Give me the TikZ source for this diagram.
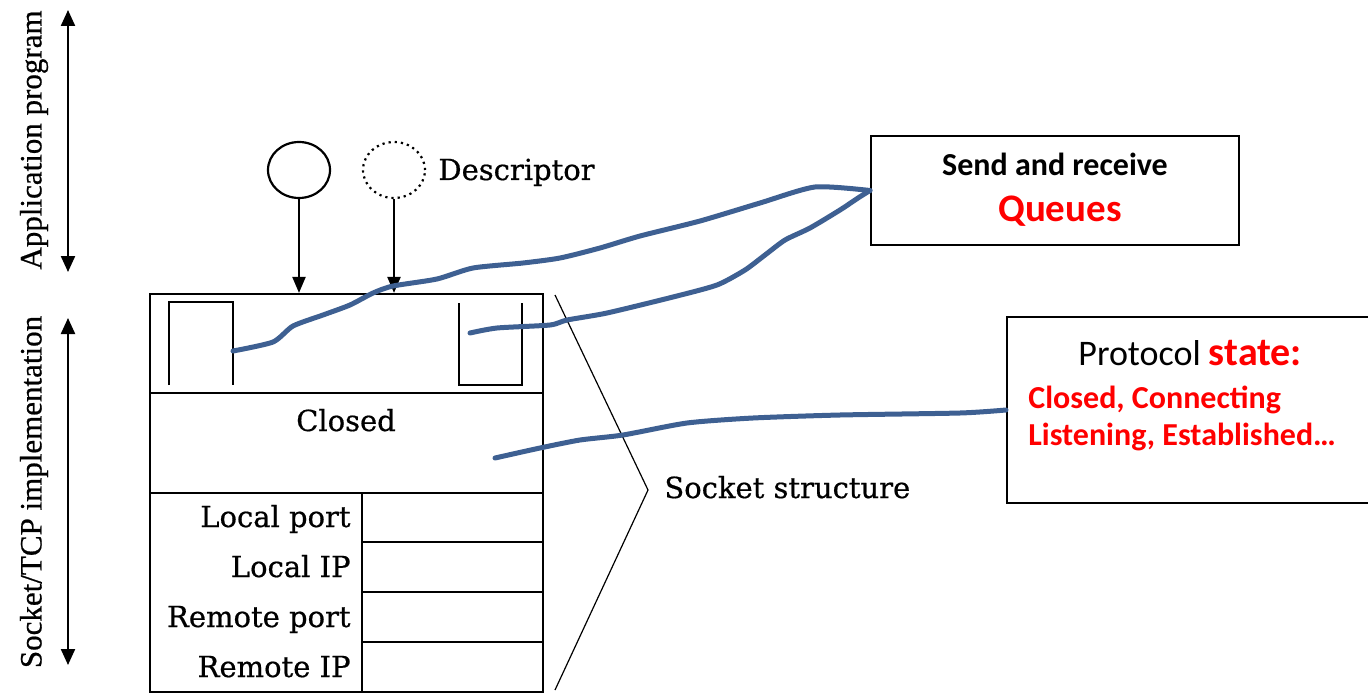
\documentclass[tikz,border=0pt]{standalone}
\usepackage{fontspec}
\setmainfont[FakeBold=0.6]{DejaVu Serif}
\newfontfamily\timesf[FakeBold=0.6]{Liberation Serif}
\newfontfamily\calib{Carlito}
\usetikzlibrary{arrows.meta,shapes.geometric}
\definecolor{penblue}{RGB}{62,96,146}
\definecolor{qred}{RGB}{255,0,0}
\begin{document}
\begin{tikzpicture}[x=0.5pt,y=-0.5pt,
  bookfont/.style={font=\fontsize{14.5pt}{17pt}\selectfont, inner sep=0pt},
  sidefont/.style={font=\timesf\fontsize{15.5pt}{18pt}\selectfont, inner sep=0pt, rotate=90},
  thick line/.style={line width=1.1pt},
  dblarrow/.style={line width=1.1pt, {Triangle[length=8pt,width=7pt]}-{Triangle[length=8pt,width=7pt]}},
  downarrow/.style={line width=1.1pt, -{Triangle[length=8pt,width=6.5pt]}},
  pen/.style={penblue, line width=2.5pt, line cap=round, line join=round},
  callout/.style={draw, line width=1pt, inner sep=0pt},
]
\useasboundingbox (0,0) rectangle (1368,695);

% side arrows and labels
\coordinate (a1t) at (68,10);
\coordinate (a1b) at (68,272);
\coordinate (a2t) at (68,318);
\coordinate (a2b) at (68,665);
\draw[dblarrow] (a1t) -- (a1b);
\draw[dblarrow] (a2t) -- (a2b);
\node[sidefont] (apptxt) at (34,140) {Application program};
\node[sidefont] (socktxt) at (34,492) {Socket/TCP implementation};

% descriptors
\node[draw, thick line, ellipse, minimum width=31pt, minimum height=28pt, inner sep=0pt] (c1) at (299,170) {};
\node[draw, line width=1.1pt, dotted, ellipse, minimum width=31pt, minimum height=28pt, inner sep=0pt] (c2) at (394,170) {};
\node[bookfont, anchor=base west] (desc) at (438,180) {Descriptor};

% socket structure box
\node[draw, thick line, minimum width=196.5pt, minimum height=199pt, inner sep=0pt] (box) at (346.5,493) {};
\draw[thick line] (150,393) -- (543,393);
\draw[thick line] (150,493) -- (543,493);
\draw[thick line] (362,493) -- (362,692);
\draw[thick line] (362,542) -- (543,542);
\draw[thick line] (362,592) -- (543,592);
\draw[thick line] (362,642) -- (543,642);

\draw[downarrow] (c1.south) -- (c1.south |- box.north);
\draw[downarrow] (c2.south) -- (c2.south |- box.north);

% queues
\draw[thick line] (169,385) -- (169,302) -- (233,302) -- (233,385);
\draw[thick line] (459,303) -- (459,385) -- (522,385) -- (522,303);

\node[bookfont, anchor=base] (closed) at (346,431) {Closed};
\node[bookfont, anchor=base east] (lport) at (351,527) {Local port};
\node[bookfont, anchor=base east] (lip) at (351,577) {Local IP};
\node[bookfont, anchor=base east] (rport) at (351,627) {Remote port};
\node[bookfont, anchor=base east] (rip) at (351,677) {Remote IP};

% bracket
\coordinate (br1) at (555,295);
\coordinate (brT) at (648,490);
\coordinate (br2) at (555,690);
\draw[line width=0.6pt] (br1) -- (brT) -- (br2);
\node[bookfont, anchor=base west] (sstruct) at (664,498) {Socket structure};

% callouts
\node[callout, minimum width=184pt, minimum height=54.5pt] (send) at (1055,190.5) {};
\node[font=\calib\bfseries\fontsize{16pt}{19pt}\selectfont, anchor=base, inner sep=0pt] (sendtxt) at (1055,176) {Send and receive};
\node[font=\calib\bfseries\fontsize{19.5pt}{23pt}\selectfont, anchor=base, inner sep=0pt, text=qred] (queues) at (1060,221) {Queues};

\node[callout, minimum width=182.5pt, minimum height=93pt] (proto) at (1189.5,410) {};
\node[font=\calib\fontsize{18pt}{21pt}\selectfont, anchor=base west, inner sep=0pt] (prototxt) at (1078,365) {Protocol \textcolor{qred}{\fontsize{20pt}{23pt}\selectfont\bfseries state:}};
\node[font=\calib\bfseries\fontsize{16pt}{19pt}\selectfont, anchor=base west, inner sep=0pt, text=qred] (st1) at (1028,408) {Closed, Connecting};
\node[font=\calib\bfseries\fontsize{16pt}{19pt}\selectfont, anchor=base west, inner sep=0pt, text=qred] (st2) at (1028,445) {Listening, Established…};

% hand-drawn connectors
\coordinate (qL) at (233,351);
\coordinate (qR) at (470,333);
\coordinate (stP) at (495,458);
\coordinate (sendL) at (send.west);
\coordinate (protoL) at (proto.west);
\draw[pen] plot[smooth, tension=0.4] coordinates {(qL) (273,342) (293,326) (323,315) (350,305) (373,293) (393,286) (437,279) (473,268) (523,263) (560,258) (600,248) (640,236) (700,221) (760,203) (815,187) (sendL)};
\draw[pen] plot[smooth, tension=0.4] coordinates {(qR) (497,328) (550,325) (567,320) (607,313) (673,297) (717,285) (745,270) (765,255) (785,240) (810,228) (840,210) (858,198) (sendL)};
\draw[pen] plot[smooth, tension=0.4] coordinates {(stP) (540,448) (580,440) (623,435) (687,423) (753,418) (840,415) (960,413) (protoL)};
\end{tikzpicture}
\end{document}
